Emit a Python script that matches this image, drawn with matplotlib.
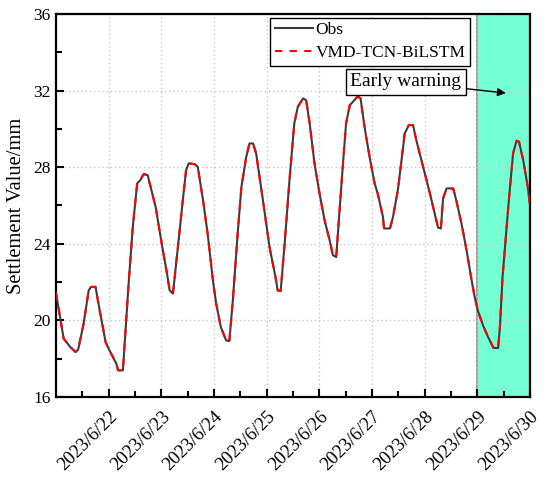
import matplotlib
matplotlib.use("Agg")
import matplotlib.pyplot as plt
import matplotlib.dates as mdates
from matplotlib.ticker import MultipleLocator
from matplotlib.transforms import ScaledTranslation
from datetime import datetime, timedelta

plt.rcParams['font.family'] = ['Liberation Serif', 'DejaVu Serif']

# ---- data (hours after 2023/6/21 00:00, settlement value in mm) ----
hours = [0, 3.5, 6.5, 8.9, 10.1, 12.6, 14.9, 16, 18, 20.2, 22.6, 24, 27.5, 28.3,
         30.5, 31.7, 33.1, 35, 37, 38.4, 40, 41.8, 45.4, 48.2, 50.6, 51.8, 53.3,
         55.4, 57.8, 59.3, 60.5, 63.1, 64.6, 67, 69.1, 71.5, 73, 75.1, 77.5, 79,
         80.6, 82.8, 84.5, 86.7, 88.2, 89.8, 91.2, 94.3, 97.3, 100.3, 101, 102.4,
         104.2, 106.4, 108.6, 110.2, 112.6, 114, 115.6, 117.8, 120.1, 122.4,
         124.7, 126.2, 127.7, 128.9, 130.8, 132.2, 133.9, 136, 137.5, 138.8,
         140.6, 142.9, 145.2, 146.6, 149, 149.5, 152.2, 153.6, 155.8, 158.2,
         158.9, 160.8, 162.7, 164.2, 167.3, 170.4, 173.3, 174.1, 175.4, 176.4,
         178, 181, 182.4, 184.8, 187.1, 189.4, 190.8, 192.2, 194.6, 196.9,
         199.4, 201.5, 202.3, 203.5, 205, 206.5, 208.3, 209.9, 211, 212.9, 215, 216]
obs = [21.43, 19.05, 18.61, 18.35, 18.47, 19.83, 21.57, 21.75, 21.75, 20.35, 18.87,
       18.52, 17.74, 17.39, 17.39, 19.48, 21.92, 24.88, 27.15, 27.32, 27.64, 27.58,
       25.93, 24.0, 22.44, 21.57, 21.40, 23.66, 26.28, 27.85, 28.2, 28.16, 28.02,
       26.28, 24.54, 22.1, 20.88, 19.66, 18.96, 18.92, 21.05, 24.54, 26.97, 28.54,
       29.24, 29.24, 28.72, 26.28, 23.84, 22.1, 21.57, 21.54, 24.0, 27.32, 30.29,
       31.15, 31.59, 31.5, 30.29, 28.2, 26.63, 25.23, 24.19, 23.4, 23.31, 25.23,
       28.2, 30.29, 31.24, 31.5, 31.7, 31.59, 30.11, 28.54, 27.15, 26.63, 25.41,
       24.8, 24.8, 25.41, 26.8, 29.06, 29.76, 30.2, 30.2, 29.41, 28.02, 26.63,
       25.23, 24.85, 24.8, 26.37, 26.89, 26.89, 26.28, 25.06, 23.66, 22.1, 21.22,
       20.53, 19.74, 19.13, 18.56, 18.56, 19.66, 22.27, 24.36, 26.45, 28.72,
       29.38, 29.33, 28.37, 26.97, 26.0]
pred = list(obs)  # prediction overlaps observations

tick_labels = ['2023/6/22', '2023/6/23', '2023/6/24', '2023/6/25', '2023/6/26',
               '2023/6/27', '2023/6/28', '2023/6/29', '2023/6/30']
series_names = ['Obs', 'VMD-TCN-BiLSTM']
warning_start = '2023/6/29'
warning_end = '2023/6/30'
warning_text = 'Early warning'

base = datetime(2023, 6, 21)
t = [base + timedelta(hours=h) for h in hours]
tick_dates = [datetime.strptime(s, '%Y/%m/%d') for s in tick_labels]

fig = plt.figure(figsize=(5.5, 4.84), dpi=100)
ax = fig.add_axes([0.1018, 0.1798, 0.8618, 0.7913])

ws = datetime.strptime(warning_start, '%Y/%m/%d')
we = datetime.strptime(warning_end, '%Y/%m/%d')
ax.axvspan(ws, we, facecolor='#76FFD2', edgecolor='none', zorder=0.5)
ax.axvline(ws, color='#a0a0a0', lw=1.5, zorder=0.6)

ax.plot(t, obs, color='#3c3c3c', lw=1.5, label=series_names[0], zorder=3)
ax.plot(t, pred, color='red', lw=1.5, ls=(0, (3.5, 3.5)), label=series_names[1], zorder=4)

ax.set_xlim(base, we)
ax.set_ylim(16, 36)
ax.yaxis.set_major_locator(MultipleLocator(4))
ax.yaxis.set_minor_locator(MultipleLocator(2))
ax.set_xticks(tick_dates)
ax.set_xticklabels(tick_labels, rotation=45, ha='right', va='top',
                   rotation_mode='anchor', fontsize=13.5)
for lab in ax.get_xticklabels():
    lab.set_transform(lab.get_transform() + ScaledTranslation(4 / 72, -3 / 72, fig.dpi_scale_trans))
ax.xaxis.set_minor_locator(mdates.HourLocator(byhour=[12]))
ax.tick_params(axis='both', which='both', direction='in', top=False, right=False)
ax.tick_params(axis='both', which='major', length=6, width=1.5)
ax.tick_params(axis='both', which='minor', length=4, width=1.5)
ax.tick_params(axis='y', labelsize=12.5, pad=4)
ax.tick_params(axis='x', pad=8)
for sp in ax.spines.values():
    sp.set_linewidth(1.6)

ax.grid(True, which='major', color='#c8c8c8', ls=(0, (1, 2)), lw=1.0)

ax.set_ylabel('Settlement Value/mm', fontsize=14.8, labelpad=5)

leg = ax.legend(loc='upper left', bbox_to_anchor=(0.452, 0.99), fontsize=12.5,
                frameon=True, fancybox=False, edgecolor='black', framealpha=1,
                handlelength=2.2, handletextpad=0.15, borderpad=0.25,
                labelspacing=0.4, borderaxespad=0)
leg.get_frame().set_linewidth(1.0)

ax.annotate(warning_text, xy=(base + timedelta(hours=8 * 24 + 13), 31.87),
            xytext=(base + timedelta(hours=159.4), 32.45),
            fontsize=14, ha='center', va='center',
            bbox=dict(boxstyle='square,pad=0.22', fc='white', ec='black', lw=1.0),
            arrowprops=dict(arrowstyle='-|>', color='black', lw=1.0,
                            mutation_scale=12, shrinkA=0, shrinkB=0),
            zorder=6)

fig.savefig('out.png', dpi=100)
